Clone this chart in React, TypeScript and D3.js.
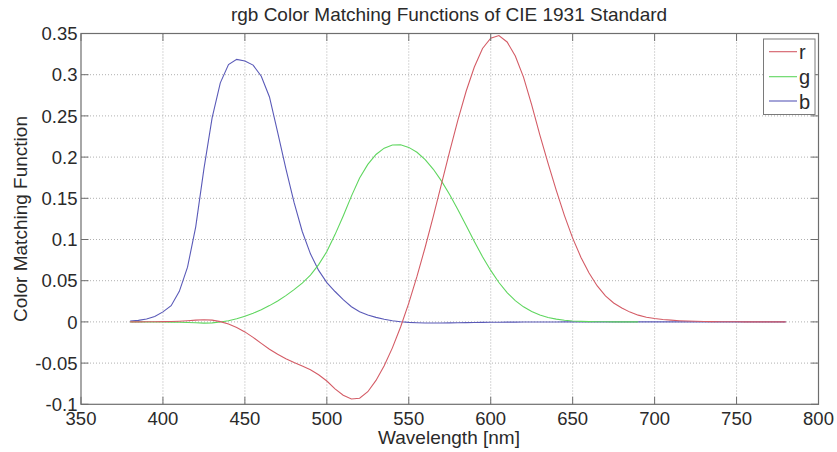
import React from "react";
import * as d3 from "d3";

const wavelengths = d3.range(380, 781, 5);

const rValues = [
  0.00003, 0.00005, 0.0001, 0.00017, 0.0003, 0.00047, 0.00084, 0.00139, 0.00211, 0.00266,
  0.00218, 0.00036, -0.00261, -0.00673, -0.01213, -0.01874, -0.02608, -0.03324, -0.03933, -0.04471,
  -0.04939, -0.05364, -0.05814, -0.06414, -0.07173, -0.0812, -0.08901, -0.09356, -0.09264, -0.08473,
  -0.07101, -0.05316, -0.03152, -0.00613, 0.02279, 0.05514, 0.0906, 0.1284, 0.16768, 0.20715,
  0.24526, 0.27989, 0.30928, 0.33184, 0.34429, 0.34756, 0.33971, 0.32265, 0.29708, 0.26348,
  0.22677, 0.19233, 0.15968, 0.12905, 0.10167, 0.07857, 0.05932, 0.04366, 0.03149, 0.02294,
  0.01687, 0.01187, 0.00819, 0.00572, 0.0041, 0.00291, 0.0021, 0.00148, 0.00105, 0.00074,
  0.00052, 0.00036, 0.00025, 0.00017, 0.00012, 0.00008, 0.00006, 0.00004, 0.00003, 0.00001,
  0.0,
];

// green drawn only up to 690 nm (as in the reference)
const gValues = [
  -0.00001, -0.00002, -0.00004, -0.00007, -0.00014, -0.00022, -0.00041, -0.0007, -0.0011, -0.00143,
  -0.00119, -0.00021, 0.00149, 0.00379, 0.00678, 0.01046, 0.01485, 0.01977, 0.02538, 0.03183,
  0.03914, 0.04713, 0.05689, 0.06948, 0.08536, 0.10593, 0.1286, 0.15262, 0.17468, 0.19113,
  0.20317, 0.21083, 0.21466, 0.21487, 0.21178, 0.20588, 0.19702, 0.18522, 0.17087, 0.15429,
  0.1361, 0.11686, 0.09754, 0.07909, 0.06246, 0.04776, 0.03557, 0.02583, 0.01828, 0.01253,
  0.00833, 0.00537, 0.00334, 0.00199, 0.00116, 0.00066, 0.00037, 0.00021, 0.00011, 0.00006,
  0.00003, 0.00001, 0.0,
];

const bValues = [
  0.00117, 0.00189, 0.00359, 0.00647, 0.01214, 0.01969, 0.03707, 0.06637, 0.11541, 0.18575,
  0.24769, 0.29012, 0.31228, 0.3186, 0.3167, 0.31166, 0.29821, 0.27295, 0.22991, 0.18592,
  0.14494, 0.10968, 0.08257, 0.06246, 0.04776, 0.03688, 0.02698, 0.01842, 0.01221, 0.0083,
  0.00549, 0.0032, 0.00146, 0.00023, -0.00058, -0.00105, -0.0013, -0.00138, -0.00135, -0.00123,
  -0.00108, -0.00093, -0.00079, -0.00063, -0.00049, -0.00038, -0.0003, -0.00022, -0.00015, -0.00011,
  -0.00008, -0.00005, -0.00003, -0.00002, -0.00001, -0.00001, 0.0, 0.0, 0.0, 0.0,
  0.0, 0.0, 0.0, 0.0, 0.0, 0.0, 0.0, 0.0, 0.0, 0.0,
  0.0, 0.0, 0.0, 0.0, 0.0, 0.0, 0.0, 0.0, 0.0, 0.0,
  0.0,
];

const xTicks = [350, 400, 450, 500, 550, 600, 650, 700, 750, 800];
const yTicks = [-0.1, -0.05, 0, 0.05, 0.1, 0.15, 0.2, 0.25, 0.3, 0.35];
const yTickLabels = ["-0.1", "-0.05", "0", "0.05", "0.1", "0.15", "0.2", "0.25", "0.3", "0.35"];

const seriesNames = ["r", "g", "b"];
const seriesColors = ["#d45c66", "#5fd65f", "#5a5ab8"];

const W = 837;
const H = 452;
const L = 81;
const R = 818.5;
const T = 33.5;
const B = 404.3;
const FONT = "'Liberation Sans', Arial, Helvetica, sans-serif";

export default function App() {
  const x = d3.scaleLinear().domain([350, 800]).range([L, R]);
  const y = d3.scaleLinear().domain([-0.1, 0.35]).range([B, T]);

  const mk = (vals: number[]) =>
    d3
      .line<number>()
      .x((_, i) => x(wavelengths[i]))
      .y((v) => y(v))(vals) || "";

  const paths = [mk(rValues), mk(gValues), mk(bValues)];
  const drawOrder = [2, 1, 0];

  const axisColor = "#6e6e6e";
  const gridColor = "#b0b0b0";
  const tickLen = 7.5;

  const legendRows = [51.7, 76.7, 101];

  return (
    <svg
      width={W}
      height={H}
      style={{ position: "absolute", left: 0, top: 0, background: "#fff" }}
      fontFamily={FONT}
    >
      <rect x={0} y={0} width={W} height={H} fill="#fff" />
      {/* grid */}
      {xTicks.slice(1, -1).map((t) => (
        <line
          key={"gx" + t}
          x1={x(t)}
          x2={x(t)}
          y1={T}
          y2={B}
          stroke={gridColor}
          strokeWidth={1}
          strokeDasharray="1,2"
        />
      ))}
      {yTicks.slice(1, -1).map((t) => (
        <line
          key={"gy" + t}
          x1={L}
          x2={R}
          y1={y(t)}
          y2={y(t)}
          stroke={gridColor}
          strokeWidth={1}
          strokeDasharray="1,2"
        />
      ))}
      {/* curves */}
      <g clipPath="url(#clip)">
        {drawOrder.map((i) => (
          <path key={seriesNames[i]} d={paths[i]} fill="none" stroke={seriesColors[i]} strokeWidth={1.1} />
        ))}
      </g>
      <defs>
        <clipPath id="clip">
          <rect x={L} y={T} width={R - L} height={B - T} />
        </clipPath>
      </defs>
      {/* axes box */}
      <rect x={L} y={T} width={R - L} height={B - T} fill="none" stroke={axisColor} strokeWidth={1.2} />
      {xTicks.map((t) => (
        <g key={"tx" + t}>
          <line x1={x(t)} x2={x(t)} y1={B} y2={B - tickLen} stroke={axisColor} />
          <line x1={x(t)} x2={x(t)} y1={T} y2={T + tickLen} stroke={axisColor} />
          <text x={x(t)} y={425} fontSize={18.5} textAnchor="middle" fill="#2a2a2a">
            {String(t)}
          </text>
        </g>
      ))}
      {yTicks.map((t, i) => (
        <g key={"ty" + t}>
          <line x1={L} x2={L + tickLen} y1={y(t)} y2={y(t)} stroke={axisColor} />
          <line x1={R} x2={R - tickLen} y1={y(t)} y2={y(t)} stroke={axisColor} />
          <text x={77.5} y={y(t) + 6.6} fontSize={18.5} textAnchor="end" fill="#2a2a2a">
            {yTickLabels[i]}
          </text>
        </g>
      ))}
      {/* title & labels */}
      <text x={449} y={20.5} fontSize={19} textAnchor="middle" fill="#2a2a2a">
        rgb Color Matching Functions of CIE 1931 Standard
      </text>
      <text x={449} y={444} fontSize={19} textAnchor="middle" fill="#2a2a2a">
        Wavelength [nm]
      </text>
      <text
        transform={`translate(27,219) rotate(-90)`}
        fontSize={19}
        textAnchor="middle"
        fill="#2a2a2a"
      >
        Color Matching Function
      </text>
      {/* legend */}
      <rect x={763.5} y={39} width={51.5} height={75.5} fill="#fff" stroke="#7a7a7a" strokeWidth={1} />
      {seriesNames.map((n, i) => (
        <g key={"lg" + n}>
          <line x1={769} x2={797} y1={legendRows[i]} y2={legendRows[i]} stroke={seriesColors[i]} strokeWidth={1.1} />
          <text x={799} y={legendRows[i] + 7.5} fontSize={20} fill="#2a2a2a">
            {n}
          </text>
        </g>
      ))}
    </svg>
  );
}
